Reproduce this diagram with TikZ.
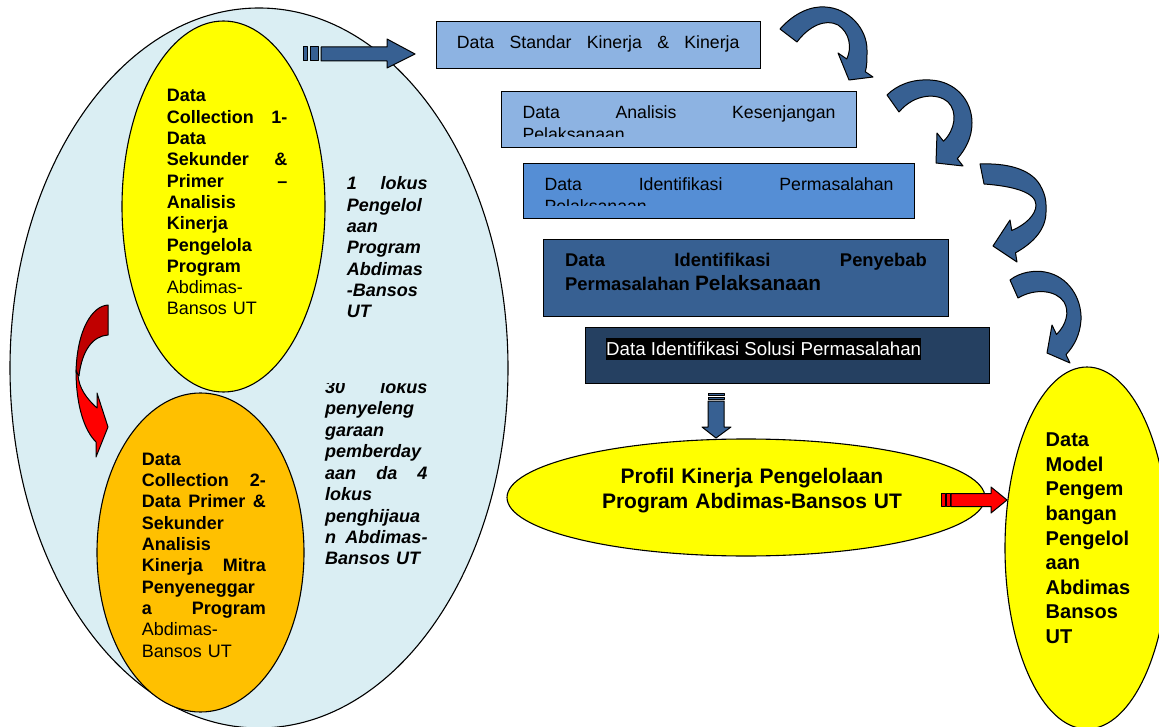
\documentclass[tikz,border=0pt]{standalone}
\usepackage{fontspec}
\setmainfont{Liberation Sans}
\usetikzlibrary{shapes.geometric}
\definecolor{bigfill}{HTML}{DAEEF3}
\definecolor{yel}{HTML}{FFFF00}
\definecolor{ora}{HTML}{FFC000}
\definecolor{rone}{HTML}{8DB3E2}
\definecolor{rthree}{HTML}{558ED5}
\definecolor{rfour}{HTML}{376092}
\definecolor{rfive}{HTML}{254061}
\definecolor{arrowblue}{HTML}{376092}
\definecolor{darkred}{HTML}{C00000}
\definecolor{brightred}{HTML}{FF0000}
\tikzset{
  shp/.style={draw=black, line width=1.1pt},
  rbox/.style={shp, rectangle, inner sep=0pt, anchor=north west},
  ell/.style={shp, ellipse, inner sep=0pt},
  txt/.style={inner sep=0pt, anchor=base west, align=left},
  barrow/.style={draw=black, line width=1pt, fill=arrowblue, line join=round},
  rarrow/.style={draw=black, line width=1pt, line join=round},
}
\begin{document}
\begin{tikzpicture}[x=1pt,y=-1pt]
\clip (0,0) rectangle (1159,727);
\fill[white] (0,0) rectangle (1159,727);

% big ellipse and inner ellipses
\node[ell, fill=bigfill, minimum width=498pt, minimum height=720pt] (big) at (259,368) {};
\node[ell, fill=yel, minimum width=203pt, minimum height=371pt] (dc1) at (223.5,206.5) {};
\node[ell, fill=ora, minimum width=207pt, minimum height=319pt] (dc2) at (200.5,552.5) {};

% red curved arrow
\draw[rarrow, fill=darkred] (108,305) .. controls (92,306) and (77,330) .. (76,372) -- (79,376) .. controls (82,350) and (93,336) .. (108,335) -- cycle;
\draw[rarrow, fill=brightred] (76,370) .. controls (76,405) and (84,430) .. (96,442) -- (96,457) -- (108,427) -- (97,393) -- (97,408) .. controls (86,398) and (79,388) .. (78,375) -- cycle;

% texts in the big ellipse
\node[txt, text width=120.5pt, font=\fontsize{18}{21.33}\selectfont\bfseries] (tdc1) at (166.7,101.7)
 {Data\\ Collection\hfill 1-\\ Data\\ Sekunder\hfill \&\\ Primer\hfill –\\ Analisis\\ Kinerja\\ Pengelola\\ Program\\ \mdseries Abdimas-\\ Bansos UT};
\node[txt, text width=124pt, font=\fontsize{18}{21.37}\selectfont\bfseries] (tdc2) at (141.7,465)
 {Data\\ Collection\hfill 2-\\ Data\hfill Primer\hfill \&\\ Sekunder\\ Analisis\\ Kinerja\hfill Mitra\\ Penyeneggar\\ a\hfill Program\\ \mdseries Abdimas-\\ Bansos UT};
\node[txt, text width=80.7pt, font=\fontsize{18}{21.33}\selectfont\bfseries\itshape] (tlok1) at (346.7,190)
 {1\hfill lokus\\ Pengelol\\ aan\\ Program\\ Abdimas\\ -Bansos\\ UT};
\begin{scope}
\clip (300,383) rectangle (450,600);
\node[txt, text width=102.3pt, font=\fontsize{18}{21.46}\selectfont\bfseries\itshape] (tlok2) at (325,393.3)
 {30\hfill lokus\\ penyeleng\\ garaan\\ pemberday\\ aan\hfill da\hfill 4\\ lokus\\ penghijaua\\ n\hfill Abdimas-\\ Bansos UT};
\end{scope}

% striped arrow to first box
\draw[barrow] (303,47) rectangle (307,61);
\draw[barrow] (310,47) rectangle (318,61);
\draw[barrow] (321,47) -- (387,47) -- (387,39) -- (415,54) -- (387,68) -- (387,61) -- (321,61) -- cycle;

% rectangles
\node[rbox, fill=rone, minimum width=324pt, minimum height=47pt] (r1) at (436,21) {};
\node[rbox, fill=rone, minimum width=355pt, minimum height=56pt] (r2) at (501,91) {};
\node[rbox, fill=rthree, minimum width=391pt, minimum height=55pt] (r3) at (523,163) {};
\node[rbox, fill=rfour, minimum width=405pt, minimum height=77pt] (r4) at (543,239) {};
\node[rbox, fill=rfive, minimum width=404pt, minimum height=56pt] (r5) at (585,327) {};

\node[txt, font=\fontsize{17.7}{21}\selectfont] (t1) at (456.7,48.7)
 {\hbox to 282.6pt{Data\hfill Standar\hfill Kinerja\hfill \&\hfill Kinerja}};
\node[txt, font=\fontsize{17.7}{21}\selectfont] (t2a) at (522.3,119)
 {\hbox to 313pt{Data\hfill Analisis\hfill Kesenjangan}};
\begin{scope}
\clip (501,91) rectangle (856,137);
\node[txt, font=\fontsize{17.7}{21}\selectfont] (t2b) at (522.3,141) {Pelaksanaan};
\end{scope}
\node[txt, font=\fontsize{17.7}{21}\selectfont] (t3a) at (544.3,191)
 {\hbox to 349pt{Data\hfill Identifikasi\hfill Permasalahan}};
\begin{scope}
\clip (523,163) rectangle (914,206);
\node[txt, font=\fontsize{17.7}{21}\selectfont] (t3b) at (544.3,213) {Pelaksanaan};
\end{scope}
\node[txt, font=\fontsize{18.4}{22}\selectfont\bfseries] (t4a) at (565,266.7)
 {\hbox to 361.7pt{Data\hfill Identifikasi\hfill Penyebab}};
\node[txt, font=\fontsize{18.4}{22}\selectfont\bfseries] (t4b) at (565,290.7)
 {Permasalahan {\fontsize{20.8}{25}\selectfont Pelaksanaan}};
\node[anchor=base west, inner xsep=0pt, inner ysep=0pt, text height=17pt, text depth=5pt, fill=black, text=white, font=\fontsize{18.7}{22}\selectfont] (t5) at (606,355)
 {Data Identifikasi Solusi Permasalahan};

% curved blue arrows
\draw[barrow] (780,29) .. controls (795,12) and (812,6) .. (825,7) .. controls (848,8) and (867,28) .. (867,50) .. controls (867,60) and (867,66) .. (865.3,71.7) -- (873,77) -- (849,80) -- (838,53) -- (846.75,59) .. controls (852,48) and (850,33) .. (838,25) .. controls (825,18) and (808,27) .. (797,42) -- cycle;
\draw[barrow] (887,95) .. controls (897,85) and (912,79) .. (930,80) .. controls (955,81) and (972,100) .. (972,123) .. controls (972,138) and (965,150) .. (957.3,158.7) -- (963,166) -- (936,163) -- (937,133) -- (943.5,141.25) .. controls (955,130) and (958,112) .. (948,102) .. controls (938,93) and (915,93) .. (899,112) -- cycle;
\draw[barrow] (980,164) .. controls (1005,163) and (1030,168) .. (1040,185) .. controls (1047,197) and (1046,205) .. (1046,212) .. controls (1046,228) and (1035,242) .. (1015.5,252.8) -- (1017,262) -- (993,246) -- (1010,220) -- (1011.75,230.5) .. controls (1025,225) and (1036,215) .. (1036,205) .. controls (1036,192) and (1012,186) .. (984,184) -- cycle;
\draw[barrow] (1010,280) .. controls (1020,272) and (1035,270) .. (1045,272) .. controls (1068,276) and (1082,298) .. (1081,320) .. controls (1080,335) and (1074,346) .. (1066,354.6) -- (1070,363) -- (1047,353) -- (1052,325) -- (1056.5,334.5) .. controls (1066,325) and (1070,312) .. (1064,302) .. controls (1056,290) and (1035,288) .. (1018,298) -- cycle;

% down striped arrow
\draw[barrow] (708,393) rectangle (724,395.5);
\draw[barrow] (708,397) rectangle (724,399.5);
\draw[barrow] (708,401) -- (708,427) -- (702,427) -- (716,438) -- (731,427) -- (724,427) -- (724,401) -- cycle;

% profile ellipse
\node[ell, fill=yel, minimum width=478pt, minimum height=117pt] (prof) at (746,497.5) {};
\node[inner sep=0pt, anchor=base, text width=330pt, align=center, font=\fontsize{21}{25}\selectfont\bfseries] (tprof) at (752,483.3)
 {Profil Kinerja Pengelolaan\\ Program Abdimas-Bansos UT};

% model ellipse
\node[ell, fill=yel, minimum width=164pt, minimum height=362pt] (model) at (1087,548) {};
\node[txt, text width=110pt, font=\fontsize{20}{24.58}\selectfont\bfseries] (tmodel) at (1045.5,446.7)
 {Data\\ Model\\ Pengem\\ bangan\\ Pengelol\\ aan\\ Abdimas\\ Bansos\\ UT};

% red striped arrow
\draw[rarrow, fill=brightred] (941.7,493.5) rectangle (945,506.5);
\draw[rarrow, fill=brightred] (946.5,493.5) rectangle (950,506.5);
\draw[rarrow, fill=brightred] (951,493.5) -- (991,493.5) -- (991,487) -- (1007,500) -- (991,513) -- (991,506.5) -- (951,506.5) -- cycle;
\end{tikzpicture}
\end{document}
